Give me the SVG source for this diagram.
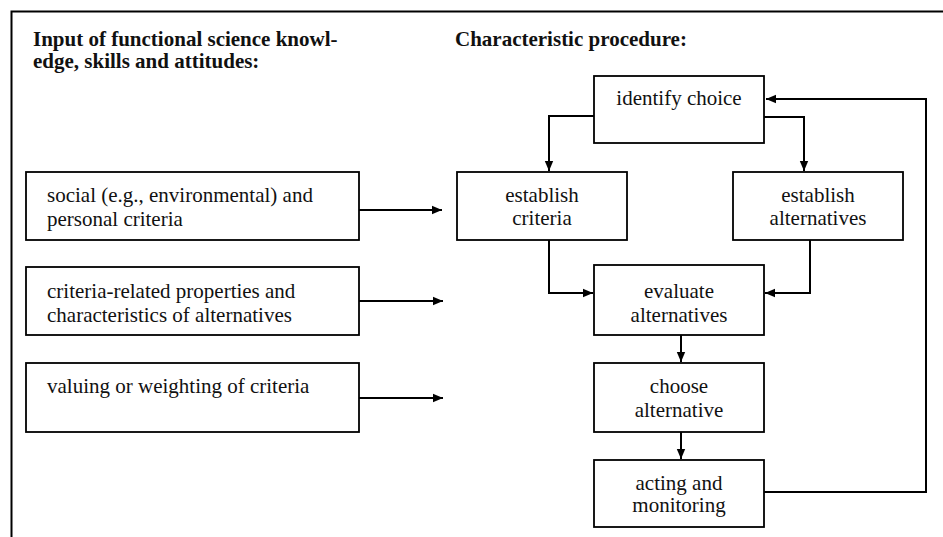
<svg xmlns="http://www.w3.org/2000/svg" width="943" height="537" viewBox="0 0 943 537">
<style>
.box{fill:#fff;stroke:#000;stroke-width:1.8}
.t{font-family:'Liberation Serif','Times New Roman',serif;font-size:21px;fill:#111}
.c{text-anchor:middle}
.b{font-weight:bold}
.ln{fill:none;stroke:#000;stroke-width:2}
</style>
<defs>
<marker id="ah" markerUnits="userSpaceOnUse" markerWidth="10" markerHeight="10" viewBox="0 0 10 10" refX="10" refY="5" orient="auto">
<path d="M0,0.8 L10,5 L0,9.2 Z" fill="#000"/>
</marker>
</defs>
<rect width="943" height="537" fill="#fff"/>
<g id="frame">
<path class="ln" d="M11.5,537 V11.5 H943"/>
</g>
<g id="titles">
<text class="t b" x="33" y="46">Input of functional science knowl-</text>
<text class="t b" x="33" y="68">edge, skills and attitudes:</text>
<text class="t b" x="455" y="46">Characteristic procedure:</text>
</g>
<g id="input1">
<rect class="box" x="26" y="172" width="333" height="68"/>
<text class="t" x="47" y="202">social (e.g., environmental) and</text>
<text class="t" x="47" y="226">personal criteria</text>
</g>
<g id="input2">
<rect class="box" x="26" y="267" width="333" height="68"/>
<text class="t" x="47" y="298">criteria-related properties and</text>
<text class="t" x="47" y="322">characteristics of alternatives</text>
</g>
<g id="input3">
<rect class="box" x="26" y="363" width="333" height="69"/>
<text class="t" x="47" y="393">valuing or weighting of criteria</text>
</g>
<g id="identify">
<rect class="box" x="594" y="76" width="170" height="67"/>
<text class="t c" x="679" y="105">identify choice</text>
</g>
<g id="criteria">
<rect class="box" x="457" y="172" width="170" height="68"/>
<text class="t c" x="542" y="202">establish</text>
<text class="t c" x="542" y="225">criteria</text>
</g>
<g id="alternatives">
<rect class="box" x="733" y="172" width="170" height="68"/>
<text class="t c" x="818" y="202">establish</text>
<text class="t c" x="818" y="225">alternatives</text>
</g>
<g id="evaluate">
<rect class="box" x="594" y="265" width="170" height="70"/>
<text class="t c" x="679" y="298">evaluate</text>
<text class="t c" x="679" y="322">alternatives</text>
</g>
<g id="choose">
<rect class="box" x="594" y="363" width="170" height="69"/>
<text class="t c" x="679" y="393">choose</text>
<text class="t c" x="679" y="417">alternative</text>
</g>
<g id="acting">
<rect class="box" x="594" y="460" width="170" height="67"/>
<text class="t c" x="679" y="490">acting and</text>
<text class="t c" x="679" y="512">monitoring</text>
</g>
<g id="connectors">
<path class="ln" d="M359,210 H442" marker-end="url(#ah)"/>
<path class="ln" d="M359,301 H443" marker-end="url(#ah)"/>
<path class="ln" d="M359,398 H443" marker-end="url(#ah)"/>
<path class="ln" d="M594,116 H549 V171" marker-end="url(#ah)"/>
<path class="ln" d="M764,117 H804 V171" marker-end="url(#ah)"/>
<path class="ln" d="M549,240 V293 H593" marker-end="url(#ah)"/>
<path class="ln" d="M810,240 V293 H765" marker-end="url(#ah)"/>
<path class="ln" d="M681,335 V362" marker-end="url(#ah)"/>
<path class="ln" d="M681,432 V459" marker-end="url(#ah)"/>
<path class="ln" d="M764,492 H926 V99 H766" marker-end="url(#ah)"/>
</g>
</svg>
